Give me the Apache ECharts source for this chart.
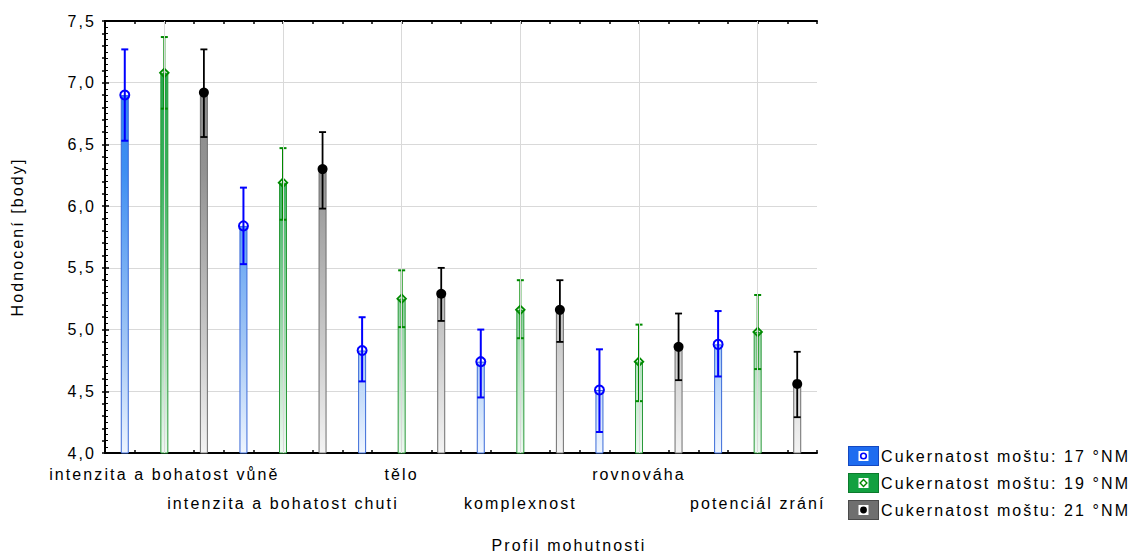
<!DOCTYPE html>
<html>
<head>
<meta charset="utf-8">
<script src="https://cdn.jsdelivr.net/npm/echarts@6/dist/echarts.min.js"></script>
<style>
  html, body { margin: 0; padding: 0; background: #ffffff; }
  #chart { width: 1138px; height: 556px; }
  #chart text { letter-spacing: 2.1px; }
</style>
</head>
<body>
<div id="chart"></div>
<script>
// Profile categories along the x axis
const categories = [
  'intenzita a bohatost vůně',
  'intenzita a bohatost chuti',
  'tělo',
  'komplexnost',
  'rovnováha',
  'potenciál zrání'
];

// Series names (must sugar content)
const seriesNames = [
  'Cukernatost moštu: 17 °NM',
  'Cukernatost moštu: 19 °NM',
  'Cukernatost moštu: 21 °NM'
];

// Mean scores with lower / upper error limits
const mean17 = [6.90, 5.84, 4.83, 4.74, 4.51, 4.88];
const low17  = [6.53, 5.53, 4.58, 4.45, 4.17, 4.62];
const high17 = [7.27, 6.15, 5.10, 5.00, 4.84, 5.15];

const mean19 = [7.08, 6.19, 5.25, 5.16, 4.74, 4.98];
const low19  = [6.79, 5.89, 5.02, 4.93, 4.42, 4.68];
const high19 = [7.37, 6.47, 5.48, 5.40, 5.04, 5.28];

const mean21 = [6.92, 6.30, 5.29, 5.16, 4.86, 4.56];
const low21  = [6.56, 5.98, 5.07, 4.90, 4.59, 4.29];
const high21 = [7.27, 6.60, 5.50, 5.40, 5.13, 4.82];

// Y axis range
const yMin = 4.0;
const yMax = 7.5;
const yStep = 0.5;

// ---- layout & style ----
const GRID = { left: 105, right: 321, top: 21, bottom: 103 };
const CHART_H = 556;
const FONT = "'Liberation Sans', Arial, sans-serif";
const FS = 16;

// horizontal position of each group member inside a category slot
const slotOffset = [1 / 6, 3 / 6, 5 / 6];

const styles = [
  { // 17 °NM
    line: '#0000ff', border: '#3a6ad8',
    stops: ['#2a7bf0', '#3f8ff2', '#a3c7f5', '#eef5ff'],
    legendFill: '#1e6cf0', legendStroke: '#1448c0', marker: 'ring'
  },
  { // 19 °NM
    line: '#008a00', border: '#2a9a3a',
    stops: ['#1ea446', '#37b15b', '#a6dbb3', '#eef9f1'],
    legendFill: '#12a040', legendStroke: '#0c7a2c', marker: 'diamond'
  },
  { // 21 °NM
    line: '#000000', border: '#6e6e6e',
    stops: ['#808080', '#939393', '#cbcbcb', '#f3f3f3'],
    legendFill: '#6f6f6f', legendStroke: '#4a4a4a', marker: 'dot'
  }
];

const means = [mean17, mean19, mean21];
const lows = [low17, low19, low21];
const highs = [high17, high19, high21];

const gridTopPx = GRID.top;
const gridBottomPx = CHART_H - GRID.bottom;

function barGradient(st) {
  return new echarts.graphic.LinearGradient(0, gridTopPx, 0, gridBottomPx, [
    { offset: 0, color: st.stops[0] },
    { offset: 0.35, color: st.stops[1] },
    { offset: 0.75, color: st.stops[2] },
    { offset: 1, color: st.stops[3] }
  ], true);
}

function legendIcon(st) {
  let sym;
  if (st.marker === 'ring') {
    sym = `<circle cx='15.5' cy='10' r='2.8' fill='none' stroke='#0000ff' stroke-width='1.6'/>`;
  } else if (st.marker === 'diamond') {
    sym = `<polygon points='15.5,6.6 18.9,10 15.5,13.4 12.1,10' fill='none' stroke='#008a00' stroke-width='1.4'/>`;
  } else {
    sym = `<circle cx='15.5' cy='10' r='3.4' fill='#000'/>`;
  }
  const svg = `<svg xmlns='http://www.w3.org/2000/svg' width='31' height='20'>` +
    `<rect x='0.5' y='0.5' width='30' height='19' fill='${st.legendFill}' stroke='${st.legendStroke}'/>` +
    `<rect x='10.5' y='5' width='10' height='10' fill='#ffffff'/>` + sym + `</svg>`;
  return 'image://data:image/svg+xml;charset=utf-8,' + encodeURIComponent(svg);
}

function errorRenderer(st, lineWidth) {
  return function (params, api) {
    const x = api.value(0);
    const pm = api.coord([x, api.value(1)]);
    const pl = api.coord([x, api.value(2)]);
    const ph = api.coord([x, api.value(3)]);
    const cap = 3.5;
    const ls = { stroke: st.line, lineWidth: lineWidth };
    const children = [
      { type: 'line', shape: { x1: pm[0], y1: pl[1], x2: pm[0], y2: ph[1] }, style: ls },
      { type: 'line', shape: { x1: pm[0] - cap, y1: ph[1], x2: pm[0] + cap, y2: ph[1] }, style: ls },
      { type: 'line', shape: { x1: pm[0] - cap, y1: pl[1], x2: pm[0] + cap, y2: pl[1] }, style: ls }
    ];
    if (st.marker === 'ring') {
      children.push({ type: 'circle', shape: { cx: pm[0], cy: pm[1], r: 4.5 },
        style: { fill: 'none', stroke: st.line, lineWidth: 2 } });
    } else if (st.marker === 'diamond') {
      const d = 4.3;
      children.push({ type: 'polygon', shape: { points: [
        [pm[0], pm[1] - d], [pm[0] + d, pm[1]], [pm[0], pm[1] + d], [pm[0] - d, pm[1]]] },
        style: { fill: 'none', stroke: st.line, lineWidth: 1.8 } });
    } else {
      children.push({ type: 'circle', shape: { cx: pm[0], cy: pm[1], r: 5 },
        style: { fill: st.line } });
    }
    return { type: 'group', children: children };
  };
}

const series = [];

// light vertical guides through every category centre
series.push({
  type: 'line',
  data: [],
  z: 1,
  silent: true,
  markLine: {
    silent: true,
    symbol: 'none',
    label: { show: false },
    lineStyle: { color: '#d9d9d9', width: 1, type: 'solid' },
    data: categories.map((c, i) => ({ xAxis: i + 0.5 }))
  }
});

seriesNames.forEach((name, s) => {
  const st = styles[s];
  series.push({
    name: name,
    type: 'bar',
    barWidth: 8,
    barGap: '-100%',
    z: 2,
    itemStyle: { color: barGradient(st), borderColor: st.border, borderWidth: 1 },
    data: means[s].map((v, i) => [i + slotOffset[s], v])
  });
  series.push({
    name: name,
    type: 'custom',
    z: 4,
    renderItem: errorRenderer(st, s === 2 ? 1.8 : 2),
    encode: { x: 0, y: 1 },
    data: means[s].map((v, i) => [i + slotOffset[s], v, lows[s][i], highs[s][i]])
  });
});

const textBase = { color: '#000000', fontFamily: FONT, fontSize: FS };

const option = {
  animation: false,
  backgroundColor: '#ffffff',
  textStyle: { fontFamily: FONT },
  title: {
    text: 'Profil mohutnosti',
    left: 'center',
    top: 537,
    padding: 0,
    textStyle: Object.assign({ fontWeight: 'normal' }, textBase)
  },
  legend: {
    orient: 'vertical',
    left: 848,
    top: 446,
    padding: 0,
    itemWidth: 31,
    itemHeight: 20,
    itemGap: 7,
    selectedMode: false,
    textStyle: Object.assign({ padding: [0, 0, 0, -3] }, textBase),
    data: seriesNames.map((n, s) => ({ name: n, icon: legendIcon(styles[s]) }))
  },
  grid: Object.assign({ containLabel: false }, GRID),
  xAxis: [
    {
      type: 'value',
      position: 'bottom',
      min: 0,
      max: categories.length,
      interval: 0.25,
      axisLine: { show: true, lineStyle: { color: '#000', width: 2 } },
      axisTick: { show: true, inside: true, length: 3, lineStyle: { color: '#000', width: 1.5 } },
      splitLine: { show: false },
      axisLabel: Object.assign({
        show: true,
        margin: 7,
        lineHeight: 29,
        verticalAlign: 'top',
        showMinLabel: true,
        showMaxLabel: true,
        formatter: function (v) {
          const k = v - 0.5;
          const i = Math.round(k);
          if (Math.abs(k - i) > 1e-6 || i < 0 || i >= categories.length) return '';
          return i % 2 === 0 ? categories[i] : '\n' + categories[i];
        }
      }, textBase)
    },
    {
      type: 'value',
      position: 'top',
      min: 0,
      max: categories.length,
      interval: 0.25,
      axisLine: { show: true, lineStyle: { color: '#000', width: 2 } },
      axisTick: { show: true, inside: true, length: 3, lineStyle: { color: '#000', width: 1.5 } },
      splitLine: { show: false },
      axisLabel: { show: false }
    }
  ],
  yAxis: [
    {
      type: 'value',
      position: 'left',
      min: yMin,
      max: yMax,
      interval: yStep,
      name: 'Hodnocení [body]',
      nameLocation: 'middle',
      nameRotate: 90,
      nameGap: 80,
      nameTextStyle: textBase,
      axisLine: { show: true, lineStyle: { color: '#000', width: 2 } },
      axisTick: { show: true, inside: true, length: 4, lineStyle: { color: '#000', width: 1.5 } },
      minorTick: { show: true, splitNumber: 10, length: 3, lineStyle: { color: '#000', width: 1 } },
      splitLine: { show: true, lineStyle: { color: '#d9d9d9', width: 1 } },
      axisLabel: Object.assign({
        margin: 9,
        formatter: v => v.toFixed(1).replace('.', ',')
      }, textBase)
    },
    {
      type: 'value',
      position: 'right',
      min: yMin,
      max: yMax,
      interval: 0.1,
      axisLine: { show: true, lineStyle: { color: '#000', width: 2 } },
      axisTick: { show: true, inside: true, length: 3, lineStyle: { color: '#000', width: 1.5 } },
      splitLine: { show: false },
      axisLabel: { show: false }
    }
  ],
  series: series
};

const chart = echarts.init(document.getElementById('chart'), null, { renderer: 'svg' });
chart.setOption(option);
</script>
</body>
</html>
